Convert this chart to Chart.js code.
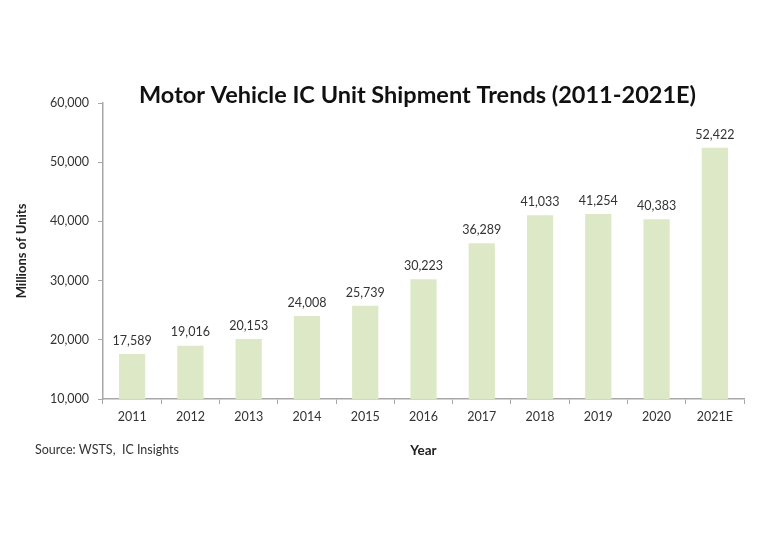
<!DOCTYPE html>
<html>
<head>
<meta charset="utf-8">
<script src="https://cdn.jsdelivr.net/npm/chart.js@4/dist/chart.umd.min.js"></script>
<style>
html,body{margin:0;padding:0;background:#fff;}
#wrap{width:768px;height:549px;position:relative;}
</style>
</head>
<body>
<div id="wrap"><canvas id="c" width="768" height="549"></canvas></div>
<script>
const categories = ['2011','2012','2013','2014','2015','2016','2017','2018','2019','2020','2021E'];
const shipments = [17589, 19016, 20153, 24008, 25739, 30223, 36289, 41033, 41254, 40383, 52422];
const yTicks = [10000, 20000, 30000, 40000, 50000, 60000];
const titleText = 'Motor Vehicle IC Unit Shipment Trends (2011-2021E)';
const sourceText = 'Source: WSTS,  IC Insights';

const FONT = 'Lato, "Open Sans", sans-serif';
const fmt = v => v.toLocaleString('en-US');

const textPlugin = {
  id: 'texts',
  afterDatasetsDraw(chart) {
    const ctx = chart.ctx;
    const meta = chart.getDatasetMeta(0);
    ctx.save();
    ctx.fillStyle = '#333';
    ctx.font = '12.5px ' + FONT;
    ctx.textAlign = 'center';
    ctx.textBaseline = 'bottom';
    meta.data.forEach((bar, i) => {
      ctx.fillText(fmt(shipments[i]), bar.x, bar.y - 7);
    });
    ctx.restore();
  },
  afterDraw(chart) {
    const ctx = chart.ctx;
    const ca = chart.chartArea;
    ctx.save();
    ctx.fillStyle = '#111';
    ctx.font = 'bold 23.5px ' + FONT;
    ctx.textAlign = 'center';
    ctx.textBaseline = 'middle';
    ctx.fillText(titleText, (ca.left + ca.right) / 2 - 6, ca.top - 8);
    ctx.fillStyle = '#333';
    ctx.font = '12.5px ' + FONT;
    ctx.textAlign = 'left';
    ctx.fillText(sourceText, 35, ca.bottom + 51);
    ctx.restore();
  }
};

new Chart(document.getElementById('c'), {
  type: 'bar',
  data: {
    labels: categories,
    datasets: [{
      data: shipments,
      backgroundColor: 'rgb(221,232,199)',
      borderWidth: 0,
      barPercentage: 0.45,
      categoryPercentage: 1.0
    }]
  },
  options: {
    responsive: false,
    animation: false,
    layout: { padding: { top: 103, left: 14, right: 24, bottom: 90 } },
    plugins: { legend: { display: false }, tooltip: { enabled: false }, title: { display: false } },
    scales: {
      x: {
        grid: { display: true, drawOnChartArea: false, offset: true, tickLength: 5, color: '#a8a8a8' },
        border: { color: '#a8a8a8', width: 1.5 },
        ticks: { color: '#333', font: { family: FONT, size: 12.5 }, padding: 5, maxRotation: 0 },
        title: { display: true, text: 'Year', color: '#222', font: { family: FONT, size: 13.5, weight: 'bold' }, padding: 0 },
        afterFit(s) { s.height = 60; }
      },
      y: {
        min: 10000, max: 60000,
        afterBuildTicks(s) { s.ticks = yTicks.map(v => ({ value: v })); },
        grid: { display: true, drawOnChartArea: false, tickLength: 5, color: '#a8a8a8' },
        border: { color: '#a8a8a8', width: 1.5 },
        ticks: { color: '#333', font: { family: FONT, size: 12.5 }, padding: 9, callback: v => fmt(v) },
        title: { display: true, text: 'Millions of Units', color: '#222', font: { family: FONT, size: 13, weight: 'bold' }, padding: 0 },
        afterFit(s) { s.width = 89; }
      }
    }
  },
  plugins: [textPlugin]
});
</script>
</body>
</html>
